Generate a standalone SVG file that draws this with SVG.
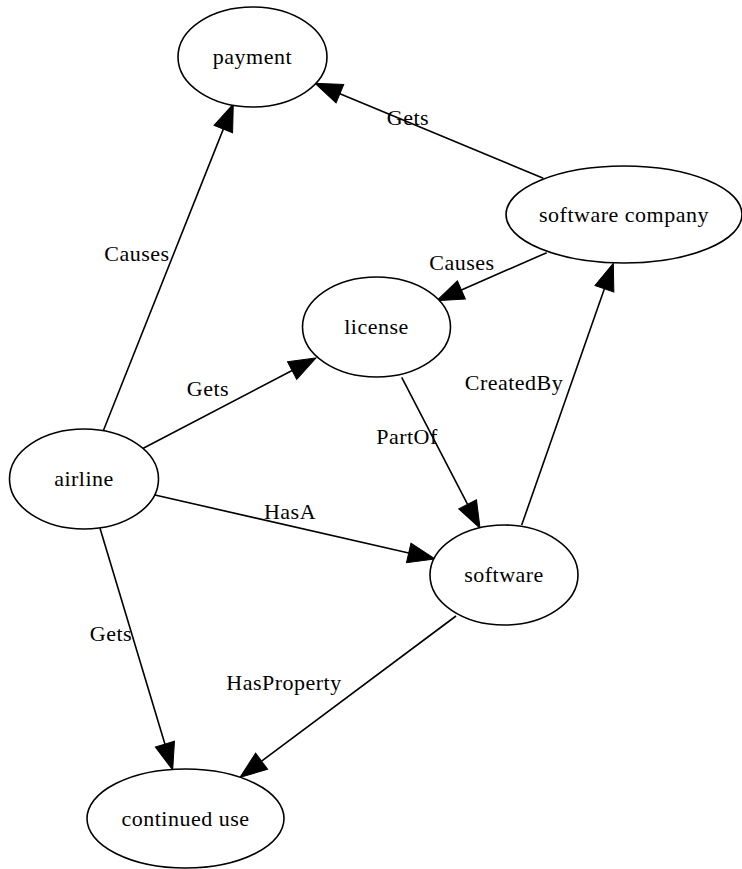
<svg xmlns="http://www.w3.org/2000/svg" width="742" height="869" viewBox="0 0 742 869" font-family="'Liberation Serif','Times New Roman',serif">
<style>
.node ellipse{fill:#fff;stroke:#000;stroke-width:1.6}
.edge path{fill:none;stroke:#000;stroke-width:1.6}
text{font-family:"Liberation Serif","Times New Roman",serif;font-size:22px;letter-spacing:0.5px;fill:#000;text-anchor:middle}
</style>
<defs>
<marker id="arr" markerUnits="userSpaceOnUse" markerWidth="28" markerHeight="22" refX="0" refY="11" orient="auto" overflow="visible">
<path d="M0,1 L27,11 L0,21 z" fill="#000" stroke="#000" stroke-width="1"/>
</marker>
</defs>
<rect width="742" height="869" fill="#fff"/>
<g id="edges">
<g class="edge"><path d="M103.3,430.7 L223.3,129.1" marker-end="url(#arr)"/><text x="137" y="261">Causes</text></g>
<g class="edge"><path d="M543.3,178.3 L339.9,93.7" marker-end="url(#arr)"/><text x="408" y="125">Gets</text></g>
<g class="edge"><path d="M546.7,252.7 L461.4,289.9" marker-end="url(#arr)"/><text x="462" y="270">Causes</text></g>
<g class="edge"><path d="M143.3,448.3 L292.1,370.5" marker-end="url(#arr)"/><text x="208" y="396">Gets</text></g>
<g class="edge"><path d="M401.7,377.3 L467.6,504.3" marker-end="url(#arr)"/><text x="407" y="444">PartOf</text></g>
<g class="edge"><path d="M521.7,525 L604.4,288.8" marker-end="url(#arr)"/><text x="514" y="390">CreatedBy</text></g>
<g class="edge"><path d="M155,495 L408.7,553" marker-end="url(#arr)"/><text x="290" y="519">HasA</text></g>
<g class="edge"><path d="M100,528.3 L164.9,744.1" marker-end="url(#arr)"/><text x="111" y="641">Gets</text></g>
<g class="edge"><path d="M456,616 L261.6,761.2" marker-end="url(#arr)"/><text x="284" y="690">HasProperty</text></g>
</g>
<g id="payment" class="node"><ellipse cx="252.5" cy="57" rx="74.5" ry="50"/><text x="252.5" y="64">payment</text></g>
<g id="software_company" class="node"><ellipse cx="624" cy="214.5" rx="118" ry="48.5"/><text x="624" y="221.5">software company</text></g>
<g id="license" class="node"><ellipse cx="376.5" cy="327" rx="74" ry="50"/><text x="376.5" y="334">license</text></g>
<g id="airline" class="node"><ellipse cx="84" cy="479" rx="74.5" ry="50"/><text x="84" y="486">airline</text></g>
<g id="software" class="node"><ellipse cx="504" cy="575" rx="74" ry="50"/><text x="504" y="582">software</text></g>
<g id="continued_use" class="node"><ellipse cx="185.5" cy="818.5" rx="98.5" ry="49.5"/><text x="185.5" y="825.5">continued use</text></g>
</svg>
